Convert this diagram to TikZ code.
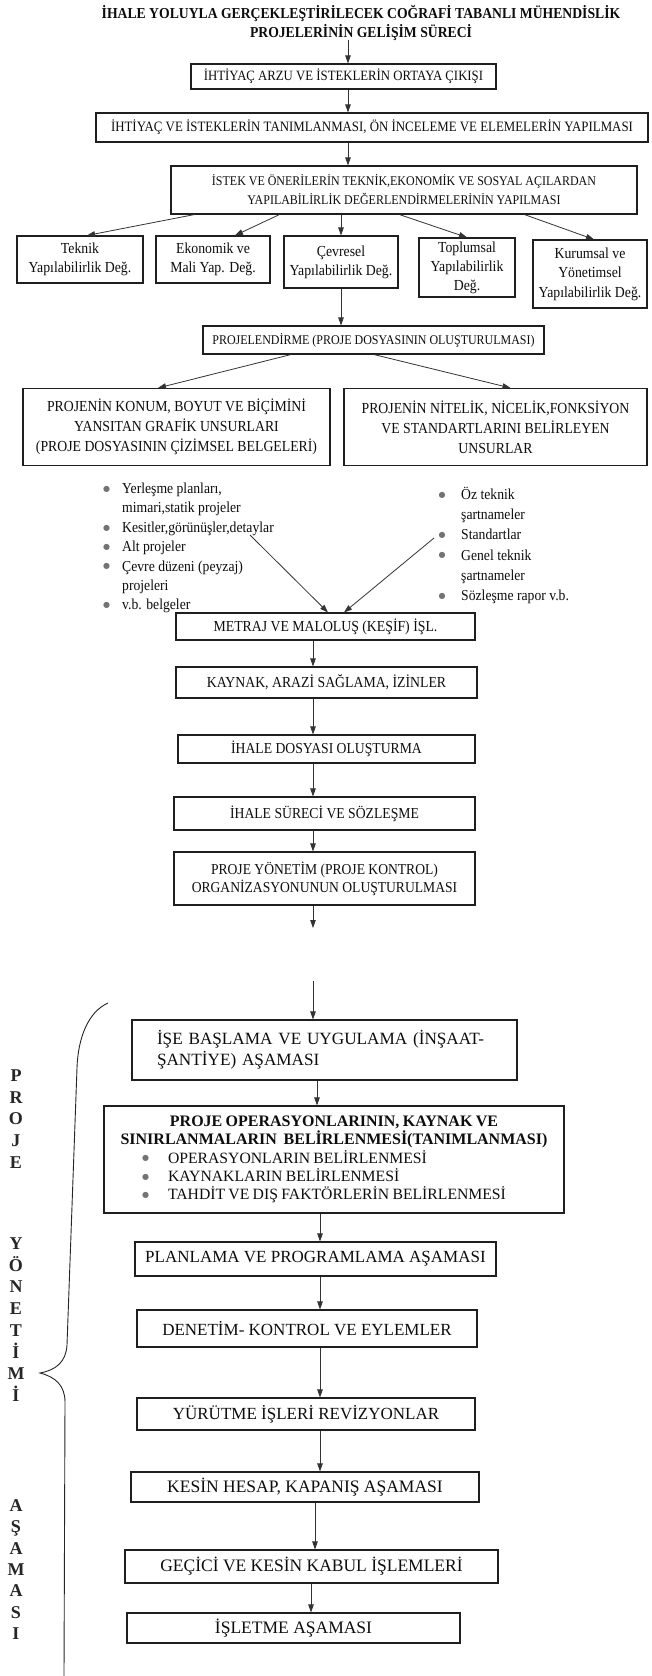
\documentclass[tikz,border=0pt]{standalone}
\usepackage{fontspec}
\setmainfont{Liberation Serif}
\newfontfamily\cnd[FakeStretch=0.9]{Liberation Serif}
\newfontfamily\djv{DejaVu Sans}
\usetikzlibrary{arrows.meta,calc}
\newcommand\fsz[2]{\fontsize{#1}{#2}\selectfont}
\newcommand\dotb{\raisebox{2.2pt}{\djv\fontsize{8}{8}\selectfont\color{black!55}●}}
\begin{document}
\begin{tikzpicture}[x=1pt,y=-1pt,
  bx/.style={draw=black!88,line width=1.1pt,inner sep=0pt,align=center,text=black!95},
  arr/.style={draw=black!80,line width=0.8pt,-{Triangle[length=8pt,width=5.5pt]}},
  bl/.style={text=black!95,inner sep=0pt,anchor=base west},
  vlet/.style={font=\fsz{18}{20}\bfseries,text=black!85,inner sep=0pt,anchor=base},
]
\useasboundingbox[fill=white] (0,0) rectangle (651,1676);

% ---------- title ----------
\node[font=\cnd\fsz{15.2}{19}\bfseries,align=center,inner sep=0pt,text=black!95] (title) at (361,22.5)
  {İHALE YOLUYLA GERÇEKLEŞTİRİLECEK COĞRAFİ TABANLI MÜHENDİSLİK\\PROJELERİNİN GELİŞİM SÜRECİ};
\coordinate (ax) at (348,0);

\node[bx,minimum width=305,minimum height=25,font=\cnd\fsz{14.2}{16}] (b1) at (343.5,76.5)
  {İHTİYAÇ ARZU VE İSTEKLERİN ORTAYA ÇIKIŞI};
\node[bx,minimum width=552,minimum height=29,font=\cnd\fsz{14.3}{16}] (b2) at (372,127.5)
  {İHTİYAÇ VE İSTEKLERİN TANIMLANMASI, ÖN İNCELEME VE ELEMELERİN YAPILMASI};
\node[bx,minimum width=466,minimum height=48,font=\cnd\fsz{13.3}{19}] (b3) at (404,190)
  {İSTEK VE ÖNERİLERİN TEKNİK,EKONOMİK VE SOSYAL AÇILARDAN\\YAPILABİLİRLİK DEĞERLENDİRMELERİNİN YAPILMASI};

\draw[arr] (title.south -| ax) -- (b1.north -| ax);
\draw[arr] (b1.south -| ax) -- (b2.north -| ax);
\draw[arr] (b2.south -| ax) -- (b3.north -| ax);

% ---------- five feasibility boxes ----------
\node[bx,minimum width=126,minimum height=47,font=\cnd\fsz{15.3}{19}] (tek) at (80,259.5)
  {Teknik\\Yapılabilirlik Değ.};
\node[bx,minimum width=114,minimum height=47,font=\cnd\fsz{15.3}{19}] (eko) at (213,259.5)
  {Ekonomik ve\\Mali Yap. Değ.};
\node[bx,minimum width=114,minimum height=52,font=\cnd\fsz{15.3}{19}] (cev) at (341,262)
  {Çevresel\\Yapılabilirlik Değ.};
\node[bx,minimum width=96,minimum height=59,font=\cnd\fsz{15.3}{19}] (top) at (467,267.5)
  {Toplumsal\\Yapılabilirlik\\Değ.};
\node[bx,minimum width=114,minimum height=68,font=\cnd\fsz{15.3}{19.5}] (kur) at (590,274)
  {Kurumsal ve\\Yönetimsel\\Yapılabilirlik Değ.};

\draw[arr] ([xshift=24]b3.south west) -- ([xshift=7]tek.north);
\draw[arr] ([xshift=109]b3.south west) -- ([xshift=22]eko.north);
\draw[arr] (b3.south -| cev.north) -- (cev.north);
\draw[arr] ([xshift=229]b3.south west) -- (top.north);
\draw[arr] ([xshift=354]b3.south west) -- ([xshift=4]kur.north);

% ---------- projelendirme ----------
\node[bx,minimum width=341,minimum height=28,font=\cnd\fsz{13.3}{16}] (proj) at (373.5,340)
  {PROJELENDİRME (PROJE DOSYASININ OLUŞTURULMASI)};
\draw[arr] (cev.south) -- (cev.south |- proj.north);

\node[bx,minimum width=307,minimum height=77,font=\cnd\fsz{15.3}{20}] (lb) at (176.5,427)
  {PROJENİN KONUM, BOYUT VE BİÇİMİNİ\\YANSITAN GRAFİK UNSURLARI\\(PROJE DOSYASININ ÇİZİMSEL BELGELERİ)};
\node[bx,minimum width=303,minimum height=77,font=\cnd\fsz{15.3}{20}] (rb) at (495.5,427)
  {PROJENİN NİTELİK, NİCELİK,FONKSİYON\\VE STANDARTLARINI BELİRLEYEN\\UNSURLAR};
\draw[arr] ([xshift=-82.5]proj.south) -- ([xshift=-18.5]lb.north);
\draw[arr] ([xshift=0.5]proj.south) -- ([xshift=15]rb.north);

% ---------- bullet lists ----------
\node[bl,font=\cnd\fsz{15.2}{19.4}] (ll) at (103,493.5)
  {\begin{tabular}[t]{@{}l@{\hspace{12pt}}l@{}}
   \dotb & Yerleşme planları,\\
         & mimari,statik projeler\\
   \dotb & Kesitler,görünüşler,detaylar\\
   \dotb & Alt projeler\\
   \dotb & Çevre düzeni (peyzaj)\\
         & projeleri\\
   \dotb & v.b. belgeler
  \end{tabular}};
\node[bl,font=\cnd\fsz{15.2}{20.2}] (rl) at (438.5,499.5)
  {\begin{tabular}[t]{@{}l@{\hspace{15.5pt}}l@{}}
   \dotb & Öz teknik\\
         & şartnameler\\
   \dotb & Standartlar\\
   \dotb & Genel teknik\\
         & şartnameler\\
   \dotb & Sözleşme rapor v.b.
  \end{tabular}};

% ---------- upper chain ----------
\node[bx,minimum width=299,minimum height=27,font=\cnd\fsz{15.3}{16}] (met) at (325.5,626.5)
  {METRAJ VE MALOLUŞ (KEŞİF) İŞL.};
\coordinate (la) at (250,535);
\coordinate (ra) at (434,538);
\draw[arr] (la) -- ([xshift=2.5]met.north);
\draw[arr] (ra) -- ([xshift=18.5]met.north);

\node[bx,minimum width=301,minimum height=31,font=\cnd\fsz{15.3}{16}] (kay) at (326.5,682.5)
  {KAYNAK, ARAZİ SAĞLAMA, İZİNLER};
\node[bx,minimum width=297,minimum height=28,font=\cnd\fsz{15.2}{16}] (ihd) at (326.5,749)
  {İHALE DOSYASI OLUŞTURMA};
\node[bx,minimum width=301,minimum height=33,font=\cnd\fsz{15.2}{16}] (ihs) at (324.5,813.5)
  {İHALE SÜRECİ VE SÖZLEŞME};
\node[bx,minimum width=301,minimum height=53,font=\cnd\fsz{15.1}{18}] (pyo) at (324.5,878.5)
  {PROJE YÖNETİM (PROJE KONTROL)\\ORGANİZASYONUNUN OLUŞTURULMASI};
\coordinate (sx) at (313,0);
\coordinate (e1) at (313,928);
\draw[arr] (met.south -| sx) -- (kay.north -| sx);
\draw[arr] (kay.south -| sx) -- (ihd.north -| sx);
\draw[arr] (ihd.south -| sx) -- (ihs.north -| sx);
\draw[arr] (ihs.south -| sx) -- (pyo.north -| sx);
\draw[arr] (pyo.south -| sx) -- (e1);

% ---------- lower chain ----------
\coordinate (s2) at (313,981);
\node[bx,minimum width=385,minimum height=60,text width=335,align=left,font=\fsz{17.2}{21}] (ise) at (324.5,1050)
  {İŞE BAŞLAMA VE UYGULAMA (İNŞAAT-\\ŞANTİYE) AŞAMASI};
\draw[arr] (s2) -- (ise.north -| s2);

\node[bx,minimum width=460,minimum height=107,text width=460,align=left] (ops) at (334,1159.5)
  {{\centering\bfseries\fsz{16}{18.4}PROJE OPERASYONLARININ, KAYNAK VE\\SINIRLANMALARIN\ \ BELİRLENMESİ(TANIMLANMASI)\par}
   \fsz{15.7}{18.4}%
   \hspace*{38pt}\makebox[26pt][l]{\dotb}OPERASYONLARIN BELİRLENMESİ\par
   \hspace*{38pt}\makebox[26pt][l]{\dotb}KAYNAKLARIN BELİRLENMESİ\par
   \hspace*{38pt}\makebox[26pt][l]{\dotb}TAHDİT VE DIŞ FAKTÖRLERİN BELİRLENMESİ\par};
\draw[arr] (ise.south -| 317,0) -- (ops.north -| 317,0);

\node[bx,minimum width=361,minimum height=34,font=\fsz{17}{20}] (plan) at (315.5,1259)
  {PLANLAMA VE PROGRAMLAMA AŞAMASI};
\node[bx,minimum width=340,minimum height=37,font=\fsz{17}{20}] (den) at (307,1328.5)
  {DENETİM- KONTROL VE EYLEMLER};
\node[bx,minimum width=338,minimum height=32,font=\fsz{17}{20}] (yur) at (306,1414)
  {YÜRÜTME İŞLERİ REVİZYONLAR};
\node[bx,minimum width=348,minimum height=30,font=\fsz{17.5}{20}] (kes) at (305,1487)
  {KESİN HESAP, KAPANIŞ AŞAMASI};
\node[bx,minimum width=373,minimum height=33,font=\fsz{17.5}{20}] (gec) at (311.5,1566.5)
  {GEÇİCİ VE KESİN KABUL İŞLEMLERİ};
\node[bx,minimum width=333,minimum height=30,font=\fsz{17.5}{20}] (isl) at (293.5,1628)
  {İŞLETME AŞAMASI};

\draw[arr] (ops.south -| 320,0) -- (plan.north -| 320,0);
\draw[arr] (plan.south -| 320,0) -- (den.north -| 320,0);
\draw[arr] (den.south -| 320,0) -- (yur.north -| 320,0);
\draw[arr] (yur.south -| 320,0) -- (kes.north -| 320,0);
\draw[arr] (kes.south -| 315,0) -- (gec.north -| 315,0);
\draw[arr] (gec.south -| 311,0) -- (isl.north -| 311,0);

% ---------- brace and vertical words ----------
\draw[line width=0.9pt,black!85] (108,1003) .. controls (88,1012) and (78,1038) .. (77,1068)
  -- (67,1345) .. controls (66,1362) and (56,1370) .. (40,1373)
  .. controls (56,1377) and (65,1386) .. (65,1402) -- (64,1676);

\foreach \ch [count=\i] in {P,R,O,J,E}
  \node[vlet] (pw\i) at (16,{1081.5+21.7*(\i-1)}) {\ch};
\foreach \ch [count=\i] in {Y,Ö,N,E,T,İ,M,İ}
  \node[vlet] (yw\i) at (16,{1249.5+21.7*(\i-1)}) {\ch};
\foreach \ch [count=\i] in {A,Ş,A,M,A,S,I}
  \node[vlet] (aw\i) at (16,{1511.5+21.3*(\i-1)}) {\ch};
\end{tikzpicture}
\end{document}
